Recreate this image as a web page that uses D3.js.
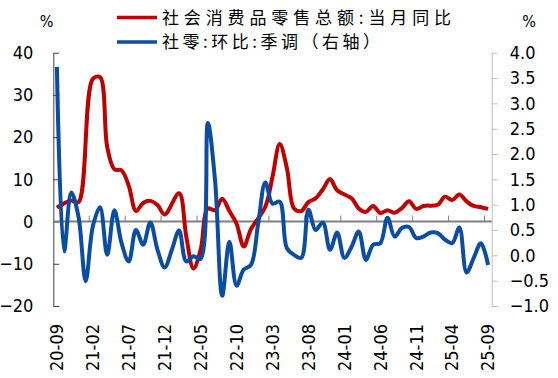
<!DOCTYPE html>
<html><head><meta charset="utf-8">
<script src="https://cdn.jsdelivr.net/npm/d3@7"></script>
<style>
html,body{margin:0;padding:0;background:#fff;}
svg{display:block;}
</style></head>
<body>
<svg id="chart" width="558" height="378"></svg>
<script>
const categories = ["20-09","20-10","20-11","20-12","21-01","21-02","21-03","21-04","21-05","21-06","21-07","21-08","21-09","21-10","21-11","21-12",
"22-01","22-02","22-03","22-04","22-05","22-06","22-07","22-08","22-09","22-10","22-11","22-12",
"23-01","23-02","23-03","23-04","23-05","23-06","23-07","23-08","23-09","23-10","23-11","23-12",
"24-01","24-02","24-03","24-04","24-05","24-06","24-07","24-08","24-09","24-10","24-11","24-12",
"25-01","25-02","25-03","25-04","25-05","25-06","25-07","25-08","25-09"];

// 社会消费品零售总额:当月同比 (%), left axis; January not published
const retailYoY = [3.3,4.3,5.0,4.6,null,33.8,34.2,17.7,12.4,12.1,8.5,2.5,4.4,4.9,3.9,1.7,
null,6.7,-3.5,-11.1,-6.7,3.1,2.7,5.4,2.5,-0.5,-5.9,-1.8,
null,3.5,10.6,18.4,12.7,3.1,2.5,4.6,5.5,7.6,10.1,7.4,
null,5.5,3.1,2.3,3.7,2.0,2.7,2.1,3.2,4.8,3.0,3.7,
null,4.0,5.9,5.1,6.4,4.8,3.7,3.4,3.0];

// 社零:环比:季调 (%), right axis
const retailMoM = [3.72,0.08,1.24,0.77,-0.51,0.57,0.95,0.01,0.89,0.24,-0.12,0.50,0.21,0.65,0.11,-0.24,
0.11,0.49,-0.12,-0.02,-0.07,2.61,1.49,-0.80,0.27,-0.60,-0.28,-0.19,
0.62,1.44,1.02,1.06,0.14,0.01,-0.05,0.90,0.50,0.65,0.11,0.45,
-0.05,0.17,0.47,-0.09,0.21,0.24,0.74,0.37,0.54,0.56,0.34,0.37,
0.45,0.44,0.31,0.24,0.55,-0.34,-0.05,0.24,-0.19];

const leftTicks = [-20,-10,0,10,20,30,40];
const rightTicks = [-1.0,-0.5,0.0,0.5,1.0,1.5,2.0,2.5,3.0,3.5,4.0];
const xLabels = ["20-09","21-02","21-07","21-12","22-05","22-10","23-03","23-08","24-01","24-06","24-11","25-04","25-09"];
const seriesNames = ["社会消费品零售总额:当月同比","社零:环比:季调（右轴）"];
const colors = ["#C00000","#0A4DA2"];

const svg = d3.select("#chart");
const L = 53.3, R = 491.7, T = 52.7, B = 306;
const x = d3.scaleBand().domain(categories).range([L, R]).padding(0);
const xc = c => x(c) + x.bandwidth()/2;
const yL = d3.scaleLinear().domain([-20,40]).range([B,T]);
const yR = d3.scaleLinear().domain([-1,4]).range([B,T]);
const numFont = "'DejaVu Sans Condensed','DejaVu Sans',sans-serif";

// left axis
const gL = svg.append("g").attr("transform",`translate(${L},0)`)
  .call(d3.axisLeft(yL).tickValues(leftTicks).tickSizeInner(-6).tickSizeOuter(0).tickPadding(20).tickFormat(d3.format("d")));
gL.select(".domain").attr("stroke","#404040");
gL.selectAll(".tick line").attr("stroke","#404040");
gL.selectAll("text").attr("font-family",numFont).attr("font-size",18).attr("fill","#000");

// right axis
const gR = svg.append("g").attr("transform",`translate(${R},0)`)
  .call(d3.axisRight(yR).tickValues(rightTicks).tickSizeInner(6).tickSizeOuter(0).tickPadding(12).tickFormat(d3.format(".1f")));
gR.select(".domain").attr("stroke","#BFBFBF");
gR.selectAll(".tick line").attr("stroke","#BFBFBF");
gR.selectAll("text").attr("font-family",numFont).attr("font-size",18).attr("fill","#000");

// zero axis line with category ticks
const y0 = yL(0);
svg.append("line").attr("x1",L).attr("x2",R).attr("y1",y0).attr("y2",y0)
  .attr("stroke","#808080").attr("stroke-width",2);
svg.append("g").selectAll("line")
  .data(categories.filter((c,i)=> i>0 && i%5===0))
  .join("line")
  .attr("x1",d=>x(d)).attr("x2",d=>x(d))
  .attr("y1",y0).attr("y2",y0-6)
  .attr("stroke","#808080").attr("stroke-width",1);

// x labels
svg.append("g").selectAll("text").data(xLabels).join("text")
  .attr("transform",d=>`translate(${xc(d)},324) rotate(-90)`)
  .attr("text-anchor","end").attr("dy","0.35em")
  .attr("font-family",numFont).attr("font-size",18).attr("fill","#000")
  .text(d=>d);

// unit labels
svg.append("text").attr("x",46.5).attr("y",27).attr("text-anchor","middle")
  .attr("font-family",numFont).attr("font-size",16).text("%");
svg.append("text").attr("x",529).attr("y",27).attr("text-anchor","middle")
  .attr("font-family",numFont).attr("font-size",16).text("%");

// lines
const curve = d3.curveCatmullRom.alpha(0.5);
const redPts = categories.map((c,i)=>({c,v:retailYoY[i]})).filter(d=>d.v!==null);
const bluePts = categories.map((c,i)=>({c,v:retailMoM[i]}));
svg.append("path").datum(redPts)
  .attr("d", d3.line().x(d=>xc(d.c)).y(d=>yL(d.v)).curve(curve))
  .attr("fill","none").attr("stroke",colors[0]).attr("stroke-width",4).attr("stroke-linejoin","round");
svg.append("path").datum(bluePts)
  .attr("d", d3.line().x(d=>xc(d.c)).y(d=>yR(d.v)).curve(curve))
  .attr("fill","none").attr("stroke",colors[1]).attr("stroke-width",4).attr("stroke-linejoin","round");

// legend
const legY = [17.5, 42];
const legW = [289, 218];
const lg = svg.append("g").selectAll("g").data(seriesNames).join("g");
lg.append("line").attr("x1",117).attr("x2",157).attr("y1",(d,i)=>legY[i]).attr("y2",(d,i)=>legY[i])
  .attr("stroke",(d,i)=>colors[i]).attr("stroke-width",3.5);
lg.append("text").attr("x",162).attr("y",(d,i)=>legY[i]).attr("dy","0.36em")
  .attr("font-family","'Noto Sans CJK SC',sans-serif").attr("font-size",17).attr("fill","#000")
  .attr("textLength",(d,i)=>legW[i]).attr("lengthAdjust","spacing")
  .text(d=>d);
</script>
</body></html>
